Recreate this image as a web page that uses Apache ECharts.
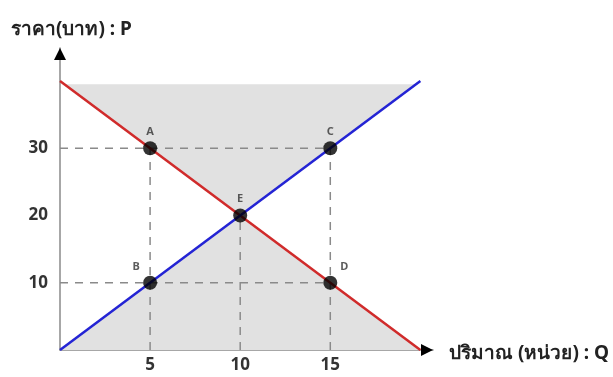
<!DOCTYPE html>
<html>
<head>
<meta charset="utf-8">
<script src="https://cdn.jsdelivr.net/npm/echarts@6/dist/echarts.min.js"></script>
<style>
  html, body { margin: 0; padding: 0; background: #fff; }
  #main { width: 613px; height: 377px; }
</style>
</head>
<body>
<div id="main"></div>
<script>
// ข้อมูล
var xTicks = [5, 10, 15];
var yTicks = [10, 20, 30];
var xMax = 20.7;
var yMax = 44.9;

var demandQ = [0, 20];
var demandP = [40, 0];
var supplyQ = [0, 20];
var supplyP = [0, 40];

var pointNames = ['A', 'B', 'C', 'D', 'E'];
var pointQ = [5, 5, 15, 15, 10];
var pointP = [30, 10, 30, 10, 20];

// shaded areas (Q, P)
var shadeTop = [[0.25, 39.5], [19.75, 39.5], [10, 20]];
var shadeBottom = [[0, 0], [10, 20], [20, 0]];

// dashed guide lines: [Q1, P1, Q2, P2]
var guides = [
    [0, 30, 15, 30],
    [0, 10, 15, 10],
    [5, 0, 5, 30],
    [10, 0, 10, 20],
    [15, 0, 15, 30]
];

var font = '"Noto Sans", "DejaVu Sans", sans-serif';
var labelPos = {A: 'top', B: ['-14', '-16'], C: 'top', D: ['14', '-16'], E: 'top'};

var chart = echarts.init(document.getElementById('main'));

var toPairs = function (qs, ps) {
    return qs.map(function (q, i) { return [q, ps[i]]; });
};

var polySeries = function (pts) {
    return {
        type: 'custom',
        silent: true,
        z: 1,
        data: [0],
        renderItem: function (params, api) {
            return {
                type: 'polygon',
                shape: {points: pts.map(function (p) { return api.coord(p); })},
                style: {fill: '#e1e1e1'}
            };
        }
    };
};

var guideSeries = guides.map(function (g) {
    return {
        type: 'line',
        silent: true,
        z: 2,
        symbol: 'none',
        lineStyle: {color: '#8a8a8a', width: 1.5, type: [8, 7]},
        data: [[g[0], g[1]], [g[2], g[3]]]
    };
});

// หัวลูกศรของแกน
var arrowSeries = {
    type: 'custom',
    silent: true,
    z: 5,
    data: [0],
    renderItem: function (params, api) {
        var ex = api.coord([xMax, 0]);
        var ey = api.coord([0, yMax]);
        return {
            type: 'group',
            children: [
                {type: 'polygon', shape: {points: [[ex[0], ex[1]], [ex[0] - 12, ex[1] - 6], [ex[0] - 12, ex[1] + 6]]},
                 style: {fill: '#000'}},
                {type: 'polygon', shape: {points: [[ey[0], ey[1]], [ey[0] - 6, ey[1] + 12], [ey[0] + 6, ey[1] + 12]]},
                 style: {fill: '#000'}}
            ]
        };
    }
};

var option = {
    animation: false,
    title: [
        {text: 'ราคา(บาท) : P', left: 6, top: 15,
         textStyle: {fontFamily: font, fontSize: 19, fontWeight: 'bold', color: '#222'}},
        {text: 'ปริมาณ (หน่วย) : Q', left: 444, top: 339,
         textStyle: {fontFamily: font, fontSize: 19, fontWeight: 'bold', color: '#222'}}
    ],
    grid: {left: 60, top: 48, width: 373, height: 302},
    xAxis: {
        type: 'value', min: 0, max: xMax,
        axisLine: {lineStyle: {color: '#8a8a8a', width: 1.5}},
        axisTick: {show: false},
        splitLine: {show: false},
        axisLabel: {
            margin: 7, fontFamily: font, fontSize: 17, fontWeight: 'bold', color: '#333',
            customValues: xTicks
        }
    },
    yAxis: {
        type: 'value', min: 0, max: yMax,
        axisLine: {lineStyle: {color: '#8a8a8a', width: 1.5}},
        axisTick: {show: false},
        splitLine: {show: false},
        axisLabel: {
            margin: 12, fontFamily: font, fontSize: 17, fontWeight: 'bold', color: '#333',
            customValues: yTicks
        }
    },
    series: [
        polySeries(shadeTop),
        polySeries(shadeBottom)
    ].concat(guideSeries).concat([
        {
            type: 'line', z: 3, symbol: 'none',
            lineStyle: {color: '#d02b2b', width: 2.5},
            data: toPairs(demandQ, demandP)
        },
        {
            type: 'line', z: 3, symbol: 'none',
            lineStyle: {color: '#2424d4', width: 2.5},
            data: toPairs(supplyQ, supplyP)
        },
        {
            type: 'scatter', z: 4,
            symbolSize: 14,
            itemStyle: {color: '#000'},
            data: pointNames.map(function (n, i) {
                var pos = labelPos[n];
                var lbl = {show: true, formatter: n, fontFamily: font, fontSize: 11,
                           fontWeight: 'bold', color: '#333'};
                if (typeof pos === 'string') {
                    lbl.position = pos;
                    lbl.distance = 4;
                } else {
                    lbl.position = 'inside';
                    lbl.offset = [Number(pos[0]), Number(pos[1])];
                }
                return {value: [pointQ[i], pointP[i]], label: lbl};
            })
        },
        arrowSeries
    ])
};

chart.setOption(option);
</script>
</body>
</html>
